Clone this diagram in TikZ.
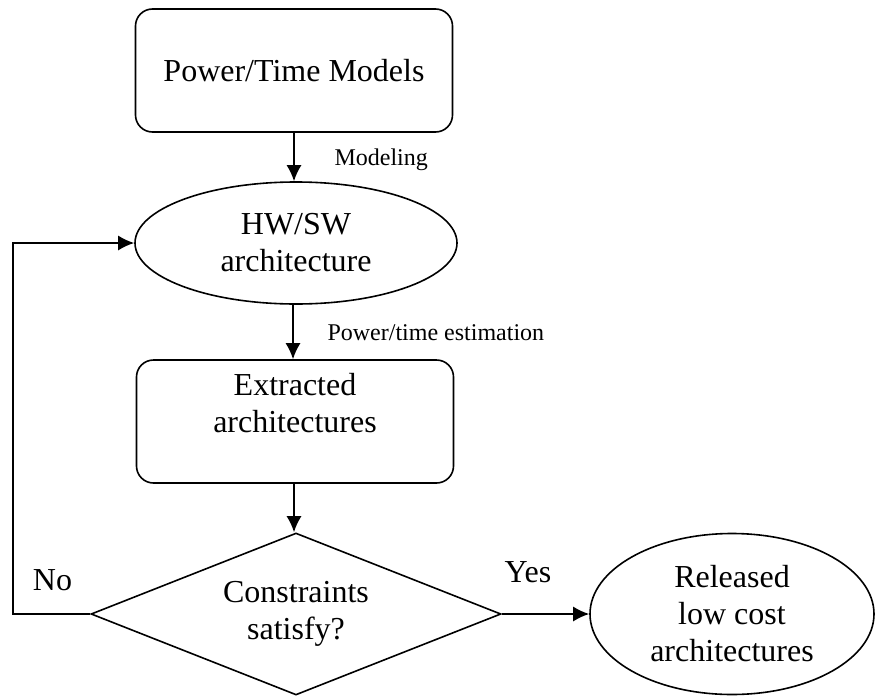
\documentclass[tikz,border=0pt]{standalone}
\usepackage{fontspec}
\setmainfont{Liberation Serif}
\usetikzlibrary{arrows.meta}
\usetikzlibrary{shapes.geometric}
\usetikzlibrary{math}

\tikzset{
  bigtext/.style={font=\fontsize{32}{37}\selectfont, align=center},
  smalltext/.style={font=\fontsize{24}{28}\selectfont},
  procbox/.style={draw, line width=1.6pt, rounded corners=17pt, rectangle,
    minimum width=317pt, minimum height=123pt, inner sep=0pt, bigtext},
  archellipse/.style={draw, line width=1.6pt, ellipse, inner sep=0pt, bigtext},
  decbox/.style={draw, line width=1.6pt, diamond, aspect=2.5, inner sep=0pt,
    minimum width=410pt, minimum height=162pt, bigtext},
  flow/.style={-{Latex[length=16pt,width=15pt]}, line width=1.6pt}
}

\begin{document}
\begin{tikzpicture}[x=1pt,y=-1pt]
\tikzmath{
\cx=294;
}
\useasboundingbox (0,0) rectangle (875,696);
%boxes
\node[procbox] (models) at (\cx,70.5) {Power/Time Models};
\node[archellipse, minimum width=322pt, minimum height=122pt] (hwsw) at (296,243) {HW/SW\\architecture};
\node[procbox] (extracted) at (295,421.5) {};
\node[bigtext, anchor=north] (extractedtext) at (295,370) {Extracted\\architectures};
\node[decbox] (decision) at (296,614) {Constraints\\satisfy?};
\node[archellipse, minimum width=284pt, minimum height=161pt] (released) at (732,614) {Released\\low cost\\architectures};

%arrows
\draw[flow] (models.south -| \cx,0) -- (hwsw.north -| \cx,0);
\draw[flow] (hwsw.south -| 293,0) -- (extracted.north -| 293,0);
\draw[flow] (extracted.south -| \cx,0) -- (decision.north -| \cx,0);
\draw[flow] (decision.east) -- (released.west);
\coordinate (nocorner) at (13,614);
\draw[flow] (decision.west) -- (nocorner) |- (hwsw.west);

%labels
\node[smalltext, anchor=west] (modeling) at (331,160) {Modeling};
\node[smalltext, anchor=west] (estimation) at (324,333) {Power/time estimation};
\node[bigtext] (nolabel) at (52.5,580) {No};
\node[bigtext] (yeslabel) at (528,572) {Yes};
\end{tikzpicture}
\end{document}
